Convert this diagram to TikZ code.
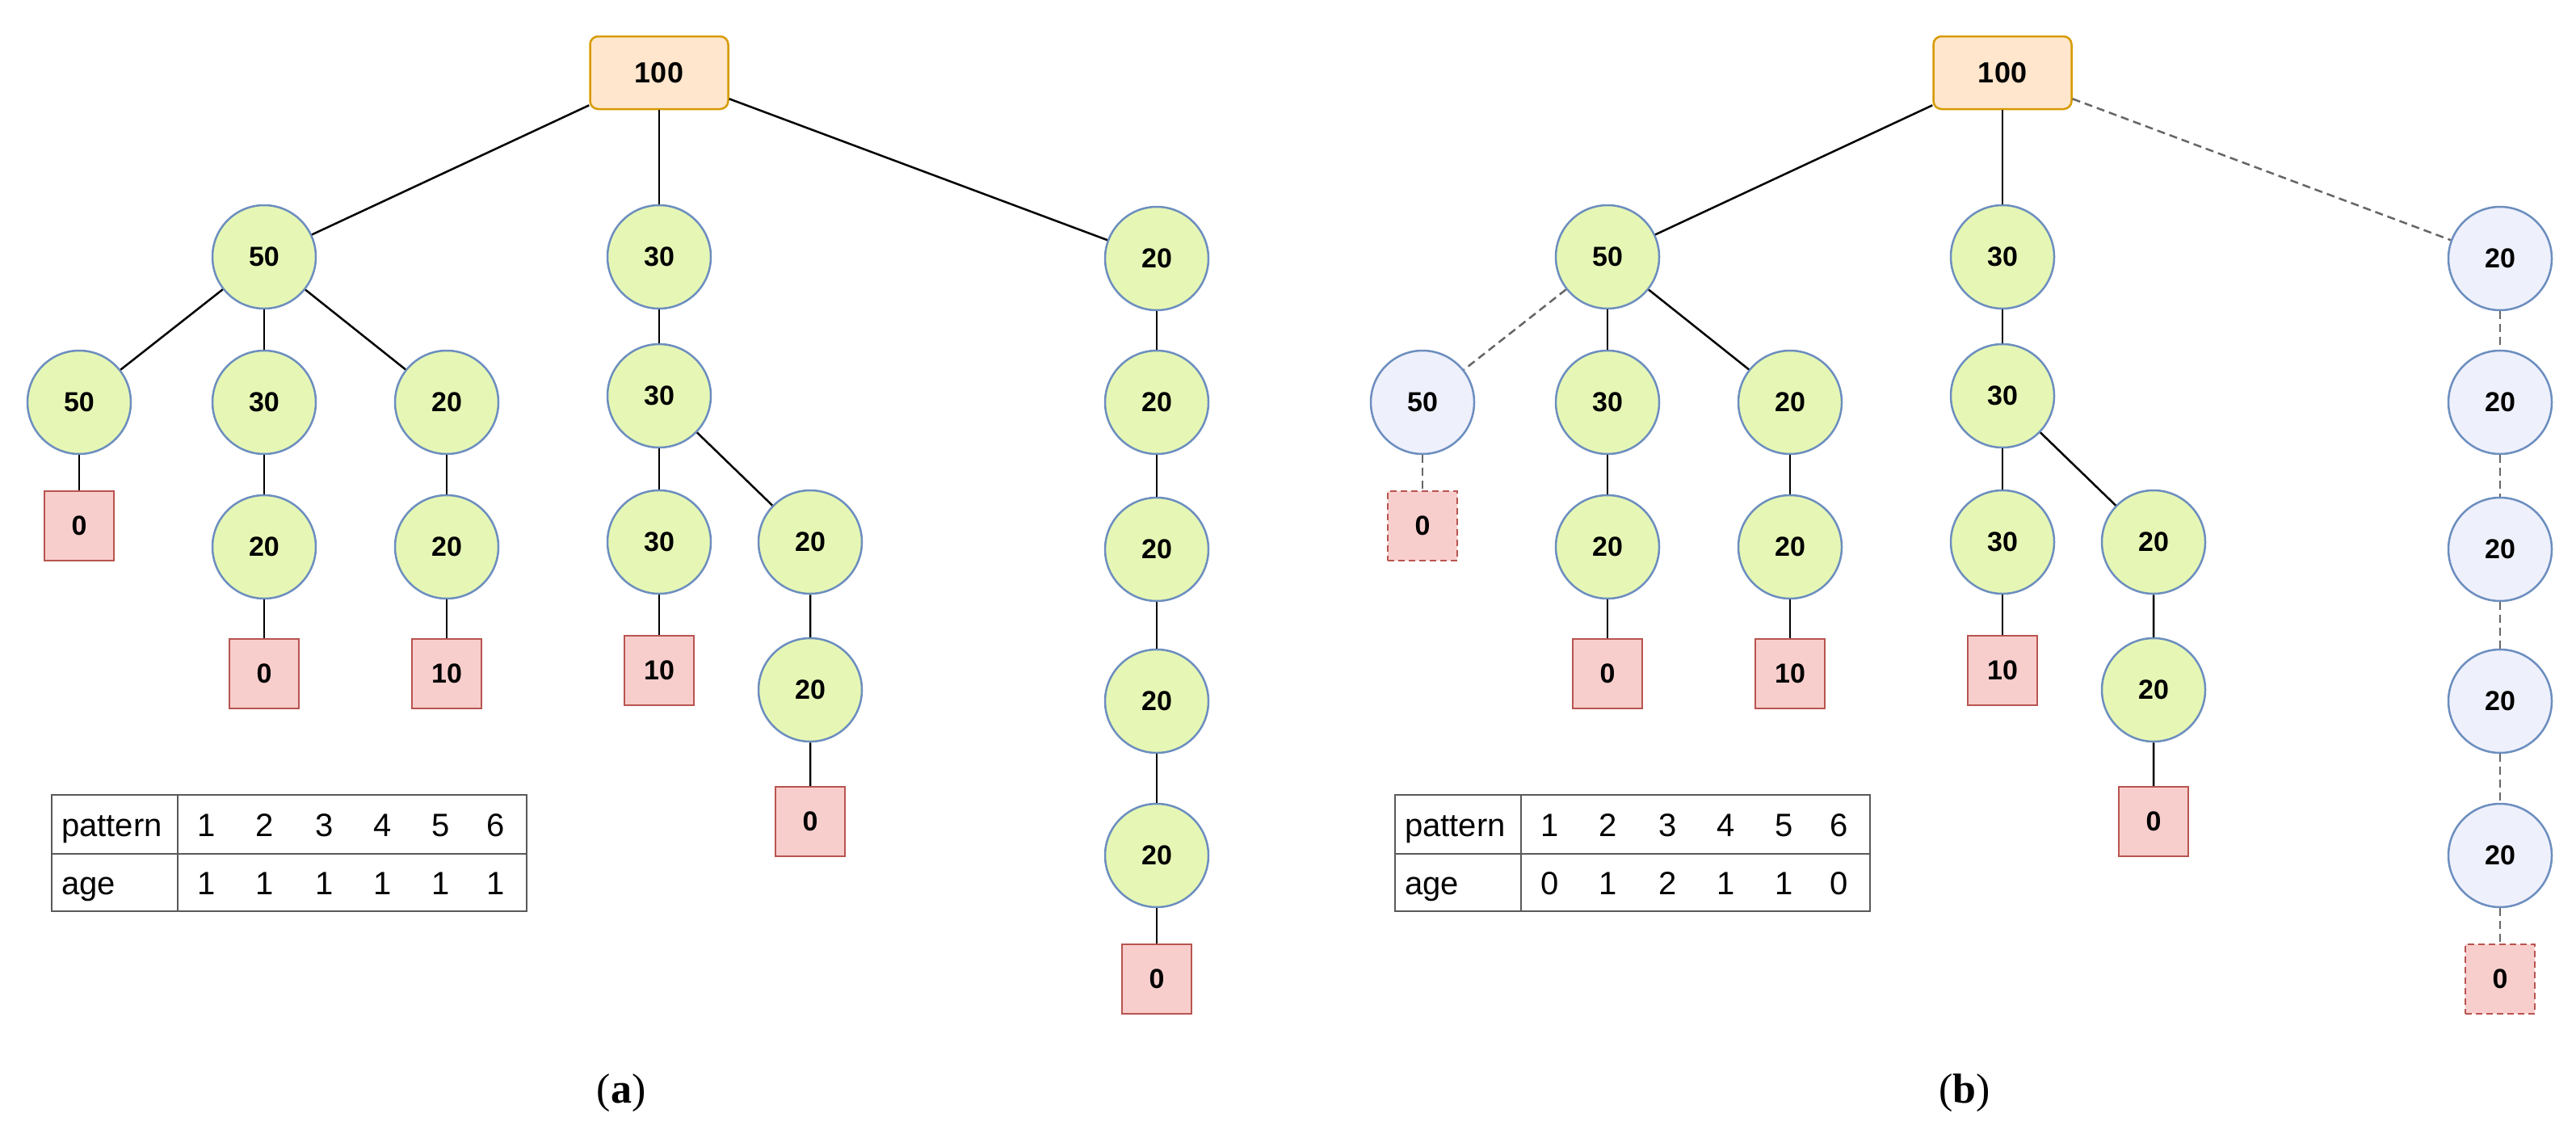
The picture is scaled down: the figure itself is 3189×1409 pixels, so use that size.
\documentclass[tikz,border=0pt]{standalone}
\usepackage{fontspec}
\setmainfont{Liberation Sans}
\newfontfamily\serifA{Liberation Serif}
\definecolor{gfill}{HTML}{E6F7B5}
\definecolor{bline}{HTML}{6C8EBF}
\definecolor{rfill}{HTML}{FFE6CC}
\definecolor{rline}{HTML}{D79B00}
\definecolor{pfill}{HTML}{F8CECC}
\definecolor{pline}{HTML}{B85450}
\definecolor{lfill}{HTML}{EEF0FC}
\tikzset{
 c/.style={circle,draw=bline,fill=gfill,line width=2.5pt,minimum size=128pt,inner sep=0pt,font=\fontsize{34}{34}\selectfont\bfseries},
 cl/.style={c,fill=lfill},
 b/.style={rectangle,draw=pline,fill=pfill,line width=2.5pt,minimum size=86pt,inner sep=0pt,font=\fontsize{34}{34}\selectfont\bfseries},
 bl/.style={b,dashed,dash pattern=on 8pt off 5pt},
 root/.style={rectangle,rounded corners=10pt,draw=rline,fill=rfill,line width=2.5pt,minimum width=171pt,minimum height=90pt,font=\fontsize{36}{36}\selectfont\bfseries},
 e/.style={line width=2.5pt,black},
 ed/.style={line width=2.5pt,gray!80!black,dash pattern=on 10pt off 6pt},
 tt/.style={font=\fontsize{40}{40}\selectfont,inner sep=0pt},
 lab/.style={font=\fontsize{52}{52}\selectfont\serifA}
}
\newcommand\mytree[9]{%
 \begin{scope}[xshift=#1pt,name prefix=#2-]
 \node[root] (r) at (816,90) {100};
 \node[c] (a) at (327,318) {50};
 \node[c] (b) at (816,318) {30};
 \node[#3] (cc) at (1432,320) {20};
 \node[#3] (a1) at (98,498) {50};
 \node[c] (a2) at (327,498) {30};
 \node[c] (a3) at (553,498) {20};
 \node[c] (b1) at (816,490) {30};
 \node[#4] (a1x) at (98,651) {0};
 \node[c] (a2a) at (327,677) {20};
 \node[c] (a3a) at (553,677) {20};
 \node[c] (b1a) at (816,671) {30};
 \node[c] (b1b) at (1003,671) {20};
 \node[b] (a2x) at (327,834) {0};
 \node[b] (a3x) at (553,834) {10};
 \node[b] (b1ax) at (816,830) {10};
 \node[c] (b1bb) at (1003,854) {20};
 \node[b] (b1bx) at (1003,1017) {0};
 \node[#3] (c1) at (1432,498) {20};
 \node[#3] (c2) at (1432,680) {20};
 \node[#3] (c3) at (1432,868) {20};
 \node[#3] (c4) at (1432,1059) {20};
 \node[#4] (cx) at (1432,1212) {0};
 \draw[e] (r) -- (a); \draw[e] (r) -- (b); \draw[#5] (r) -- (cc);
 \draw[#5] (a) -- (a1); \draw[e] (a) -- (a2); \draw[e] (a) -- (a3);
 \draw[#5] (a1) -- (a1x);
 \draw[e] (a2) -- (a2a) -- (a2x); \draw[e] (a3) -- (a3a) -- (a3x);
 \draw[e] (b) -- (b1) -- (b1a) -- (b1ax); \draw[e] (b1) -- (b1b) -- (b1bb) -- (b1bx);
 \draw[#5] (cc) -- (c1); \draw[#5] (c1) -- (c2); \draw[#5] (c2) -- (c3);
 \draw[#5] (c3) -- (c4); \draw[#5] (c4) -- (cx);
 \node[draw=gray!70!black,line width=2pt,minimum width=588pt,minimum height=144pt,inner sep=0pt] (t) at (358,1056) {};
 \draw[gray!70!black,line width=2pt] (t.west |- 0,1057) -- (t.east |- 0,1057);
 \draw[gray!70!black,line width=2pt] (t.north -| 220,0) -- (t.south -| 220,0);
 \node[tt,anchor=base west] (p) at (76,1035) {pattern};
 \node[tt,anchor=base west] (ag) at (76,1107) {age};
 \foreach \x/\n [count=\i] in {256/1,328/2,402/3,474/4,546/5,614/6}
   \node[tt,anchor=base] (n\i) at (\x,1035) {\n};
 \foreach \x/\n [count=\i] in {256/#6,328/#7,402/#8,474/#9}
   \node[tt,anchor=base] (g\i) at (\x,1107) {\n};
 \end{scope}}
\begin{document}
\begin{tikzpicture}[x=1pt,y=-1pt]
\useasboundingbox (0,0) rectangle (3189,1409);
\mytree{0}{L}{c}{b}{e}{1}{1}{1}{1}
\node[tt,anchor=base] (L5) at (546,1107) {1};
\node[tt,anchor=base] (L6) at (614,1107) {1};
\node[lab] (la) at (769,1353) {(\textbf{a})};
\mytree{1663}{R}{cl}{bl}{ed}{0}{1}{2}{1}
\node[tt,anchor=base] (R5) at (2209,1107) {1};
\node[tt,anchor=base] (R6) at (2277,1107) {0};
\node[lab] (lb) at (2432,1353) {(\textbf{b})};
\end{tikzpicture}
\end{document}
